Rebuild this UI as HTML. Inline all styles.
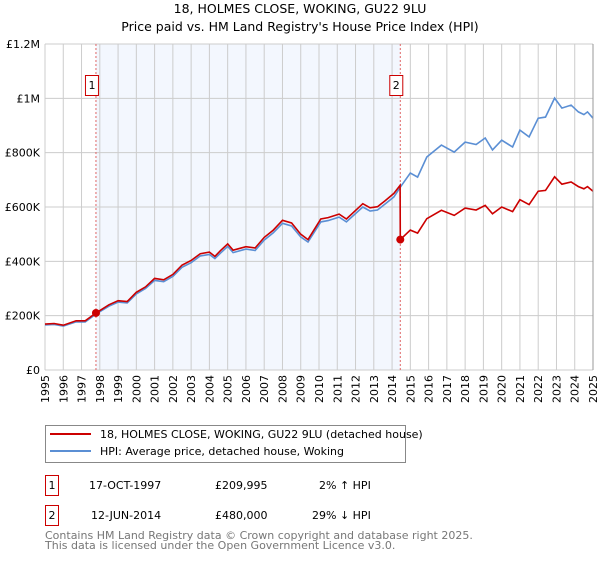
<!DOCTYPE html>
<html><head><meta charset="utf-8"><style>
body{margin:0;background:#fff;font-family:"DejaVu Sans","Liberation Sans",sans-serif;}
svg text{font-family:"DejaVu Sans","Liberation Sans",sans-serif;}
</style></head><body>
<svg id="chart" width="600" height="560" xmlns="http://www.w3.org/2000/svg">
<text x="300" y="13" text-anchor="middle" font-size="12.5">18, HOLMES CLOSE, WOKING, GU22 9LU</text>
<text x="300" y="31" text-anchor="middle" font-size="12.5">Price paid vs. HM Land Registry's House Price Index (HPI)</text>
<g id="plot"></g>
<g>
<rect x="45.5" y="425.5" width="360" height="37" fill="#fff" stroke="#888"/>
<line x1="50" y1="434" x2="91" y2="434" stroke="#cc0000" stroke-width="2"/>
<text x="100" y="438" font-size="11">18, HOLMES CLOSE, WOKING, GU22 9LU (detached house)</text>
<line x1="50" y1="451" x2="91" y2="451" stroke="#5b8fd4" stroke-width="2"/>
<text x="100" y="455" font-size="11">HPI: Average price, detached house, Woking</text>
</g>
<g font-size="11">
<rect x="45.5" y="475.5" width="13" height="20" fill="#fff" stroke="#c00"/>
<text x="52" y="489" text-anchor="middle">1</text>
<text x="89" y="489">17-OCT-1997</text>
<text x="215" y="489">£209,995</text>
<text x="319" y="489">2% ↑ HPI</text>
<rect x="45.5" y="505.5" width="13" height="20" fill="#fff" stroke="#c00"/>
<text x="52" y="519" text-anchor="middle">2</text>
<text x="91" y="519">12-JUN-2014</text>
<text x="215" y="519">£480,000</text>
<text x="312" y="519">29% ↓ HPI</text>
</g>
<text x="45" y="539" font-size="11" fill="#777">Contains HM Land Registry data © Crown copyright and database right 2025.</text>
<text x="45" y="549" font-size="11" fill="#777">This data is licensed under the Open Government Licence v3.0.</text>
</svg>
<script>
const hpiYears=[1995.0,1995.5,1996.0,1996.7,1997.2,1997.8,1998.5,1999.0,1999.5,2000.0,2000.5,2001.0,2001.5,2002.0,2002.5,2003.0,2003.5,2004.0,2004.3,2004.6,2005.0,2005.3,2006.0,2006.5,2007.0,2007.5,2008.0,2008.5,2009.0,2009.4,2010.1,2010.5,2011.1,2011.5,2012.4,2012.8,2013.2,2013.6,2014.1,2014.45,2015.0,2015.4,2015.9,2016.7,2017.4,2018.0,2018.6,2019.1,2019.5,2020.0,2020.6,2021.0,2021.5,2022.0,2022.4,2022.9,2023.3,2023.8,2024.2,2024.5,2024.7,2025.0];
const hpiValues=[166,168,162,177,177,206,235,250,247,280,300,330,325,345,378,395,420,425,410,430,455,432,445,440,478,505,540,530,490,471,545,550,563,545,600,585,589,610,637,673,725,710,784,828,802,839,830,854,810,846,821,883,858,927,931,1001,964,975,950,940,950,927];
const priceYears=[1995.0,1995.5,1996.0,1996.7,1997.2,1997.8,1998.5,1999.0,1999.5,2000.0,2000.5,2001.0,2001.5,2002.0,2002.5,2003.0,2003.5,2004.0,2004.3,2004.6,2005.0,2005.3,2006.0,2006.5,2007.0,2007.5,2008.0,2008.5,2009.0,2009.4,2010.1,2010.5,2011.1,2011.5,2012.4,2012.8,2013.2,2013.6,2014.1,2014.44,2014.45,2015.0,2015.4,2015.9,2016.7,2017.4,2018.0,2018.6,2019.1,2019.5,2020.0,2020.6,2021.0,2021.5,2022.0,2022.4,2022.9,2023.3,2023.8,2024.2,2024.5,2024.7,2025.0];
const priceValues=[169,171,165,181,181,210,240,255,252,286,306,337,332,352,386,403,428,434,418,439,464,441,454,449,488,515,551,541,500,480,556,561,574,556,612,597,601,622,650,680,480,515,504,557,588,569,596,589,606,575,600,583,627,609,658,661,711,684,692,675,667,675,658];
const saleYears=[1997.79,2014.45];
const saleValues=[209.995,480];
const saleLabels=["1","2"];
const yTicks=[0,200,400,600,800,1000,1200];
const yTickLabels=["£0","£200K","£400K","£600K","£800K","£1M","£1.2M"];
const xTicks=[1995,1996,1997,1998,1999,2000,2001,2002,2003,2004,2005,2006,2007,2008,2009,2010,2011,2012,2013,2014,2015,2016,2017,2018,2019,2020,2021,2022,2023,2024,2025];

const X0=45,X1=593,Y0=370,Y1=44;
const xs=y=>X0+(y-1995)/30*(X1-X0);
const ys=v=>Y0-v/1200*(Y0-Y1);
const NS="http://www.w3.org/2000/svg";
const g=document.getElementById('plot');
function mk(t,a){const e=document.createElementNS(NS,t);for(const k in a)e.setAttribute(k,a[k]);g.appendChild(e);return e;}
let e;
e=mk('rect',{x:xs(saleYears[0]),y:Y1,width:xs(saleYears[1])-xs(saleYears[0]),height:Y0-Y1,fill:'#eef3fd',opacity:0.7});


xTicks.forEach(t=>{
 e=mk('line',{x1:xs(t),x2:xs(t),y1:Y1,y2:Y0,stroke:'#ccc','stroke-width':1});
 
 
 e=mk('text',{x:0,y:0,'font-size':11,'text-anchor':'end',transform:`translate(${xs(t)+4},${Y0+5}) rotate(-90)`});
 e.textContent=t;
 
 
});
yTicks.forEach((t,i)=>{
 e=mk('line',{x1:X0,x2:X1,y1:ys(t),y2:ys(t),stroke:'#ccc','stroke-width':1});
 
 
 e=mk('text',{x:40,y:ys(t)+4,'font-size':11,'text-anchor':'end'});
 e.textContent=yTickLabels[i];
 
 
});
saleYears.forEach((s,i)=>{
 e=mk('line',{x1:xs(s),x2:xs(s),y1:Y1,y2:Y0,stroke:'#e06666','stroke-width':1,'stroke-dasharray':'2,2'});
 
 
 e=mk('rect',{x:xs(s)-10.5,y:75.5,width:13,height:20,fill:'#fff',stroke:'#c00'});
 
 
 e=mk('text',{x:xs(s)-4,y:89,'font-size':11,'text-anchor':'middle'});
 e.textContent=saleLabels[i];
 
 
});
e=mk('path',{d:hpiYears.map((y,i)=>(i?'L':'M')+xs(y).toFixed(1)+','+ys(hpiValues[i]).toFixed(1)).join(''),fill:'none',stroke:'#5b8fd4','stroke-width':1.6});


e=mk('path',{d:priceYears.map((y,i)=>(i?'L':'M')+xs(y).toFixed(1)+','+ys(priceValues[i]).toFixed(1)).join(''),fill:'none',stroke:'#cc0000','stroke-width':1.6});


saleYears.forEach((s,i)=>{
 e=mk('circle',{cx:xs(s),cy:ys(saleValues[i]),r:4,fill:'#cc0000'});
 
 
});
e=mk('line',{x1:X1,x2:X1,y1:Y1,y2:Y0,stroke:'#999','stroke-width':1});


</script>
</body></html>
